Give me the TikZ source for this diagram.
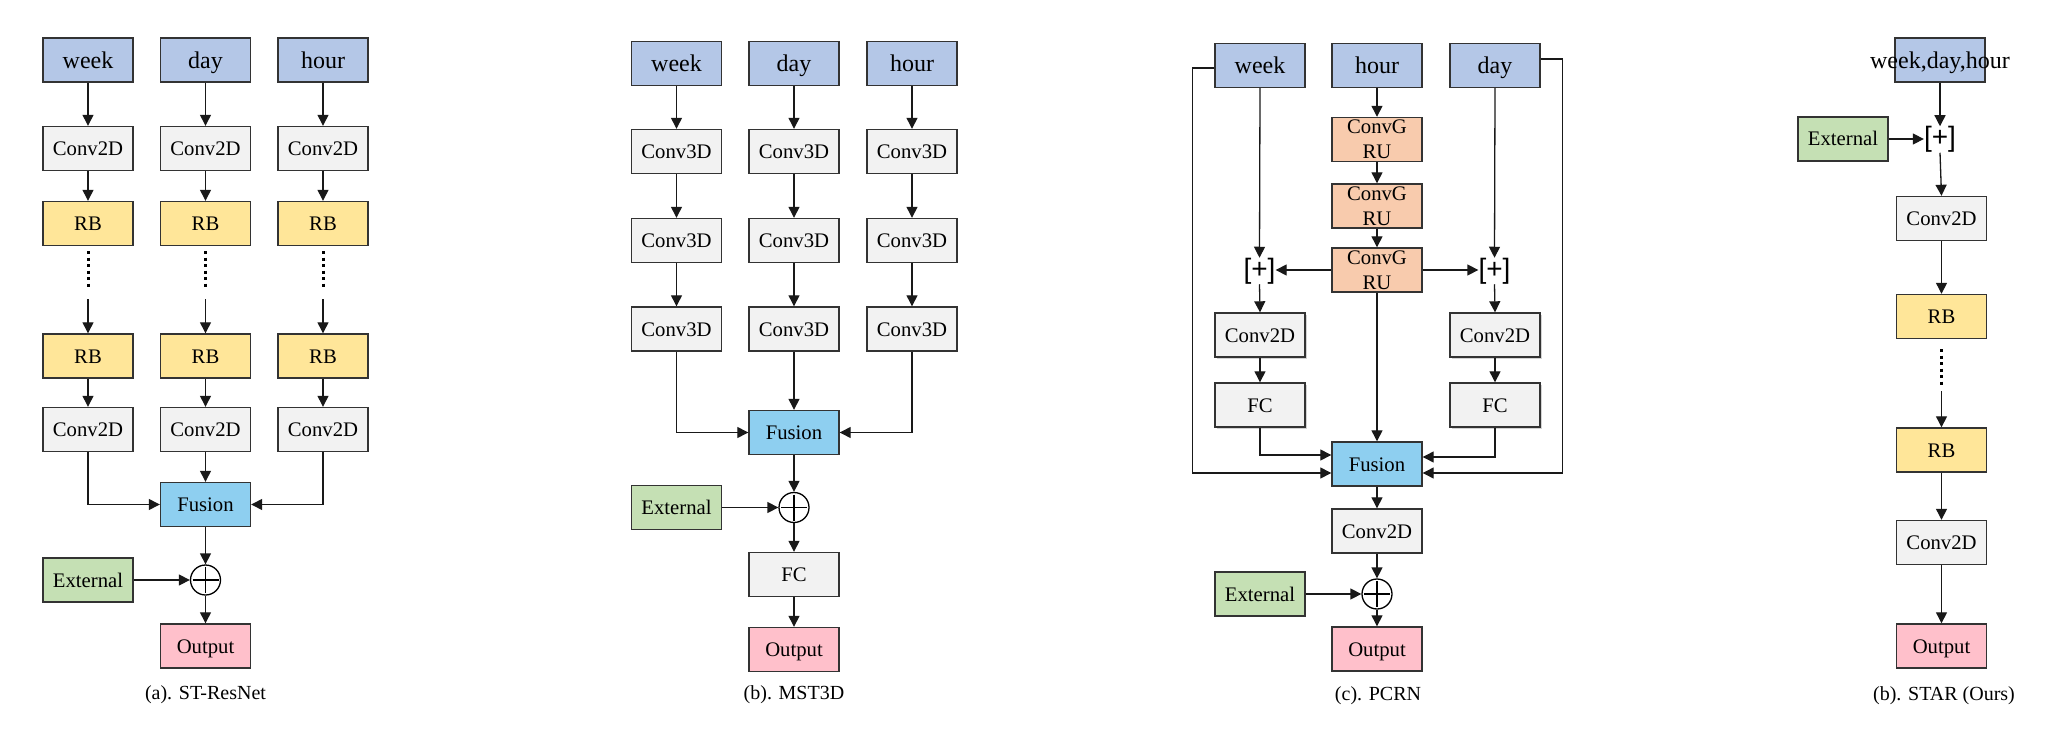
\documentclass[tikz,border=0pt]{standalone}
\usepackage{fontspec}
\setmainfont{Liberation Serif}
\newfontfamily\plusfont{Liberation Sans}
\usetikzlibrary{arrows.meta,shadows,calc}
\definecolor{cin}{HTML}{B4C7E7}
\definecolor{cgray}{HTML}{F2F2F2}
\definecolor{cyel}{HTML}{FFE699}
\definecolor{cfus}{HTML}{8ECFF0}
\definecolor{cgreen}{HTML}{C5E0B4}
\definecolor{cpink}{HTML}{FFC0CB}
\definecolor{corange}{HTML}{F8CBAD}
\definecolor{bordc}{HTML}{333333}
\newcommand{\fn}{\fontsize{20.7}{24}\selectfont}
\newcommand{\fbig}{\fontsize{24}{28}\selectfont}
\newcommand{\fcap}{\fontsize{20}{24}\selectfont}
\tikzset{
 shp/.style={draw=bordc, line width=1.4pt, minimum width=90pt, minimum height=44pt, inner sep=0pt},
 blk/.style={shp, font=\fn, text height=14pt, text depth=0pt},
 inp/.style={blk, fill=cin, font=\fbig, text height=16.3pt},
 cv/.style={blk, fill=cgray},
 rb/.style={blk, fill=cyel},
 fus/.style={blk, fill=cfus},
 ext/.style={blk, fill=cgreen},
 outp/.style={blk, fill=cpink},
 gru/.style={shp, fill=corange, align=center, font=\fontsize{20.7}{25}\selectfont},
 shd/.style={drop shadow={shadow xshift=2pt,shadow yshift=-2pt,opacity=0.35,fill=black!50}},
 arr/.style={line width=1.3pt, draw=black!90, -{Triangle[length=11pt,width=11pt]}},
 oplus/.style={circle, draw=black, line width=1.3pt, minimum size=30pt, inner sep=0pt, fill=white,
   path picture={
     \draw[line width=1.1pt] ([yshift=-2pt]path picture bounding box.north) -- ([yshift=2pt]path picture bounding box.south);
     \draw[line width=1.1pt] ([xshift=2pt]path picture bounding box.west) -- ([xshift=-2pt]path picture bounding box.east);}},
 cat/.style={font=\plusfont\fontsize{28}{30}\selectfont, inner sep=0pt},
 dotline/.style={line width=3pt, dash pattern=on 3pt off 3.5pt},
 captxt/.style={font=\fcap},
}
\begin{document}
\begin{tikzpicture}[x=1pt,y=-1pt]
\useasboundingbox (0,0) rectangle (2067,749);

% ---------------- (a) ST-ResNet ----------------
\node[inp] (aw) at (88,60) {week};
\node[inp] (ad) at (205.5,60) {day};
\node[inp] (ah) at (323,60) {hour};
\node[cv] (ac1w) at (88,148.5) {Conv2D};
\node[cv] (ac1d) at (205.5,148.5) {Conv2D};
\node[cv] (ac1h) at (323,148.5) {Conv2D};
\node[rb] (ar1w) at (88,223.5) {RB};
\node[rb] (ar1d) at (205.5,223.5) {RB};
\node[rb] (ar1h) at (323,223.5) {RB};
\node[rb] (ar2w) at (88,356) {RB};
\node[rb] (ar2d) at (205.5,356) {RB};
\node[rb] (ar2h) at (323,356) {RB};
\node[cv] (ac2w) at (88,429.5) {Conv2D};
\node[cv] (ac2d) at (205.5,429.5) {Conv2D};
\node[cv] (ac2h) at (323,429.5) {Conv2D};
\node[fus] (af) at (205.5,504.5) {Fusion};
\node[oplus] (ap) at (205.5,580) {};
\node[ext] (ae) at (88,580) {External};
\node[outp] (ao) at (205.5,646) {Output};
\node[captxt] (acap) at (205.5,695) {(a). ST-ResNet};
\foreach \c in {w,d,h}{
  \draw[arr] (a\c.south) -- (ac1\c.north);
  \draw[arr] (ac1\c.south) -- (ar1\c.north);
  \draw[dotline] ([yshift=-5pt]ar1\c.south) -- ++(0,38);
  \draw[arr] ([yshift=-53pt]ar1\c.south) -- (ar2\c.north);
  \draw[arr] (ar2\c.south) -- (ac2\c.north);
}
\draw[arr] (ac2d.south) -- (af.north);
\draw[arr] (ac2w.south) |- (af.west);
\draw[arr] (ac2h.south) |- (af.east);
\draw[arr] (af.south) -- (ap.north);
\draw[arr] (ae.east) -- (ap.west);
\draw[arr] (ap.south) -- (ao.north);

% ---------------- (b) MST3D ----------------
\node[inp] (bw) at (676.5,63.5) {week};
\node[inp] (bd) at (794,63.5) {day};
\node[inp] (bh) at (912,63.5) {hour};
\foreach \c/\x in {w/676.5,d/794,h/912}{
  \node[cv] (b1\c) at (\x,151.5) {Conv3D};
  \node[cv] (b2\c) at (\x,240.5) {Conv3D};
  \node[cv] (b3\c) at (\x,329) {Conv3D};
  \draw[arr] (b\c.south) -- (b1\c.north);
  \draw[arr] (b1\c.south) -- (b2\c.north);
  \draw[arr] (b2\c.south) -- (b3\c.north);
}
\node[fus] (bf) at (794,432.5) {Fusion};
\node[oplus] (bp) at (794,507.5) {};
\node[ext] (be) at (676.5,507.5) {External};
\node[cv] (bfc) at (794,574.5) {FC};
\node[outp] (bo) at (794,649.5) {Output};
\node[captxt] (bcap) at (794,695) {(b). MST3D};
\draw[arr] (b3d.south) -- (bf.north);
\draw[arr] (b3w.south) |- (bf.west);
\draw[arr] (b3h.south) |- (bf.east);
\draw[arr] (bf.south) -- (bp.north);
\draw[arr] (be.east) -- (bp.west);
\draw[arr] (bp.south) -- (bfc.north);
\draw[arr] (bfc.south) -- (bo.north);

% ---------------- (c) PCRN ----------------
\node[inp] (cw) at (1260,65.5) {week};
\node[inp] (ch) at (1377,65.5) {hour};
\node[inp] (cd) at (1495,65.5) {day};
\node[gru] (cg1) at (1377,139.5) {ConvG\\RU};
\node[gru] (cg2) at (1377,206) {ConvG\\RU};
\node[gru] (cg3) at (1377,270) {ConvG\\RU};
\node[cat] (cpl) at (1259.5,271) {[+]};
\node[cat] (cpr) at (1494.5,271) {[+]};
\node[cv,shd] (cc2l) at (1260,335) {Conv2D};
\node[cv,shd] (cc2r) at (1495,335) {Conv2D};
\node[cv,shd] (cfcl) at (1260,405) {FC};
\node[cv,shd] (cfcr) at (1495,405) {FC};
\node[fus] (cf) at (1377,464) {Fusion};
\node[cv] (cc3) at (1377,531) {Conv2D};
\node[oplus] (cp) at (1377,594) {};
\node[ext] (ce) at (1260,594) {External};
\node[outp] (co) at (1377,649) {Output};
\node[captxt] (ccap) at (1378,696) {(c). PCRN};
\draw[arr] (ch.south) -- (cg1.north);
\draw[arr] (cg1.south) -- (cg2.north);
\draw[arr] (cg2.south) -- (cg3.north);
\draw[arr] (cg3.west) -- (cg3.west -| cpl.east);
\draw[arr] (cg3.east) -- (cg3.east -| cpr.west);
\draw[arr] (cw.south) -- (cpl.north);
\draw[arr] (cd.south) -- (cpr.north);
\draw[arr] (cpl.south) -- (cc2l.north);
\draw[arr] (cpr.south) -- (cc2r.north);
\draw[arr] (cc2l.south) -- (cfcl.north);
\draw[arr] (cc2r.south) -- (cfcr.north);
\draw[arr] (cg3.south) -- (cf.north);
\draw[arr] (cfcl.south) |- ([yshift=9pt]cf.west);
\draw[arr] (cfcr.south) |- ([yshift=7pt]cf.east);
\draw[arr] ([yshift=-2.5pt]cw.west) -- ++(-22,0) |- ([yshift=-9pt]cf.west);
\draw[arr] ([yshift=6.5pt]cd.east) -- ++(22,0) |- ([yshift=-9pt]cf.east);
\draw[arr] (cf.south) -- (cc3.north);
\draw[arr] (cc3.south) -- (cp.north);
\draw[arr] (ce.east) -- (cp.west);
\draw[arr] (cp.south) -- (co.north);

% ---------------- (d) STAR ----------------
\node[inp, label={[font=\fbig, text height=16.3pt, text depth=0pt, inner sep=0pt]center:{week,day,hour}}] (dw) at (1940,60) {};
\node[cat] (dp) at (1940,139.5) {[+]};
\node[ext] (de) at (1843,139) {External};
\node[cv] (dc1) at (1941.5,218.5) {Conv2D};
\node[rb] (dr1) at (1941.5,316.5) {RB};
\node[rb] (dr2) at (1941.5,450) {RB};
\node[cv] (dc2) at (1941.5,542.5) {Conv2D};
\node[outp] (do) at (1941.5,646) {Output};
\node[captxt] (dcap) at (1944,696) {(b). STAR (Ours)};
\draw[arr] (dw.south) -- (dp.north);
\draw[arr] (de.east) -- (de.east -| dp.west);
\draw[arr] (dp.south) -- (dc1.north);
\draw[arr] (dc1.south) -- (dr1.north);
\draw[dotline] ([yshift=-10pt]dr1.south) -- ++(0,39);
\draw[arr] ([yshift=-52pt]dr1.south) -- (dr2.north);
\draw[arr] (dr2.south) -- (dc2.north);
\draw[arr] (dc2.south) -- (do.north);
\end{tikzpicture}
\end{document}
